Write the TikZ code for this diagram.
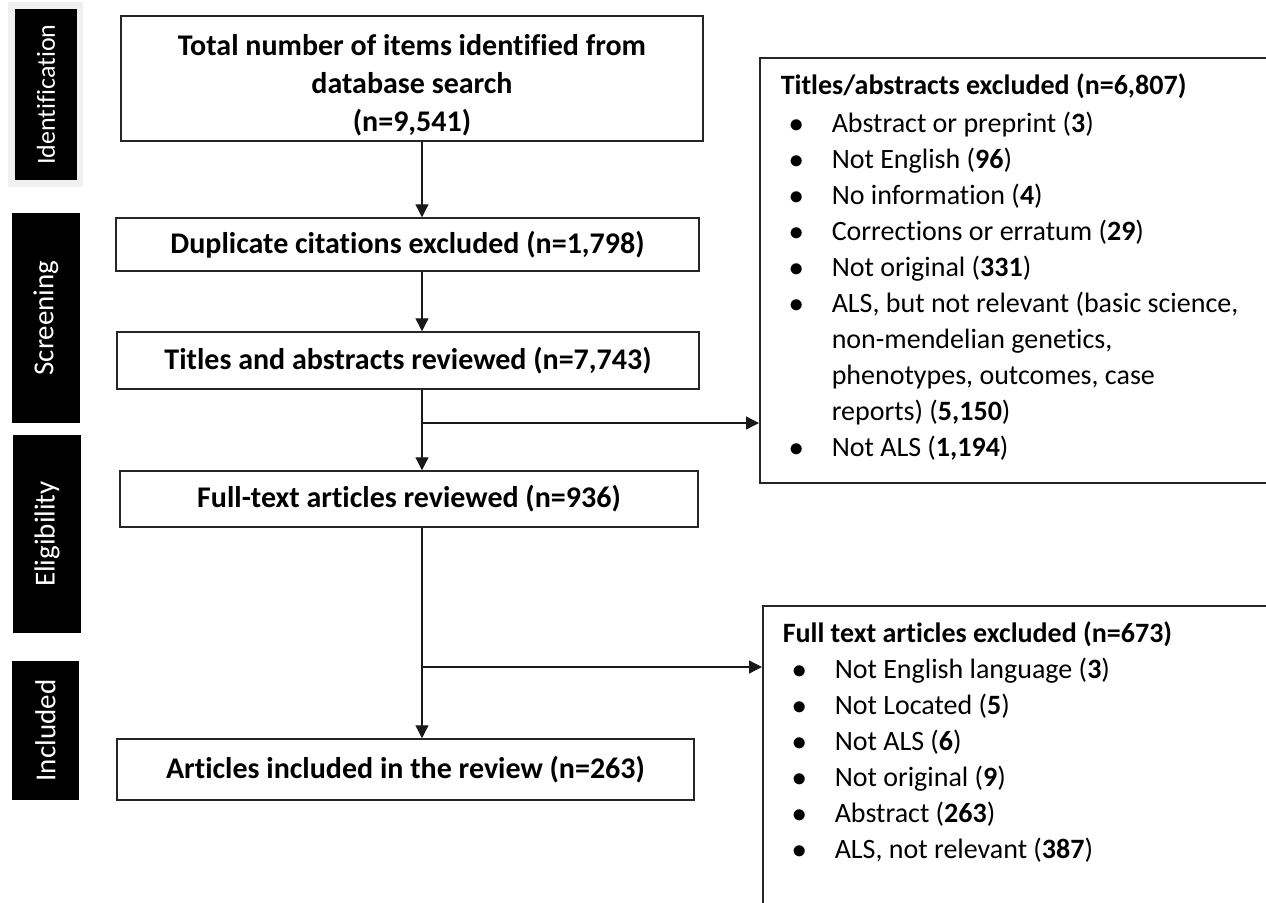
\documentclass[tikz,border=0pt]{standalone}
\usepackage{fontspec}
\setmainfont{Carlito}[Ligatures={NoCommon,NoRare,NoContextual}]
\usetikzlibrary{arrows.meta}
\newdimen\px \px=0.5pt
\newcommand\bitem[1]{\hspace*{37\px}\makebox[0pt]{$\bullet$}\hspace*{35\px}\strut #1\par}
\newcommand\bcont[1]{\hspace*{72\px}\strut #1\par}
\tikzset{
 mainbox/.style={draw=black!85, line width=0.75pt, fill=white, font=\fontsize{15}{19}\selectfont\bfseries, align=center, inner sep=0pt},
 phase/.style={fill=black, text=white, rotate=90, font=\fontsize{14.5}{17}\selectfont, inner sep=0pt},
 exbox/.style={draw=black!85, line width=0.75pt, anchor=north west, inner sep=0pt, font=\fontsize{14}{18}\selectfont},
 arr/.style={line width=0.65pt, draw=black!90, -{Triangle[length=6.5pt,width=6.5pt]}}
}
\begin{document}
\begin{tikzpicture}[x=0.5pt,y=-0.5pt]
\useasboundingbox (0,0) rectangle (1266,902);
\clip (0,0) rectangle (1266,902);
% phase labels
\fill[black!6] (8,2) rectangle (83,187);
\node[phase, minimum width=85.5pt, minimum height=31pt, font=\fontsize{13}{15}\selectfont] (pid) at (46,94.5) {Identification};
\node[phase, minimum width=105pt, minimum height=34pt] (psc) at (46,318) {Screening};
\node[phase, minimum width=99pt, minimum height=34pt] (pel) at (47,534) {Eligibility};
\node[phase, minimum width=69.5pt, minimum height=33.5pt] (pin) at (45.5,730.5) {Included};
% main boxes
\node[mainbox, minimum width=291pt, minimum height=62.5pt] (b1) at (412,78.5) {\rule{0pt}{17pt}Total number of items identified from\\database search\\(n=9,541)};
\node[mainbox, minimum width=291.5pt, minimum height=26.5pt] (b2) at (407.5,244.5) {Duplicate citations excluded (n=1,798)};
\node[mainbox, minimum width=291pt, minimum height=28.5pt] (b3) at (408,360.5) {Titles and abstracts reviewed (n=7,743)};
\node[mainbox, minimum width=289pt, minimum height=28pt] (b4) at (409,499) {Full-text articles reviewed (n=936)};
\node[mainbox, minimum width=288.5pt, minimum height=30.5pt] (b5) at (405.5,769.5) {Articles included in the review (n=263)};
% exclusion boxes
\node[exbox] (ex1) at (759,57) {\begin{minipage}[c][212.5pt][t]{265.5pt}\raggedright
\vspace*{6pt}
\hspace*{21\px}\strut\textbf{Titles/abstracts excluded (n=6,807)}\par
\vspace{1pt}
\bitem{Abstract or preprint (\textbf{3})}
\bitem{Not English (\textbf{96})}
\bitem{No information (\textbf{4})}
\bitem{Corrections or erratum (\textbf{29})}
\bitem{Not original (\textbf{331})}
\bitem{ALS, but not relevant (basic science,}
\bcont{non-mendelian genetics,}
\bcont{phenotypes, outcomes, case}
\bcont{reports) (\textbf{5,150})}
\bitem{Not ALS (\textbf{1,194})}
\end{minipage}};
\node[exbox] (ex2) at (762,605) {\begin{minipage}[c][162.5pt][t]{264pt}\raggedright
\vspace*{5.6pt}
\hspace*{20\px}\strut\textbf{Full text articles excluded (n=673)}\par
\bitem{Not English language (\textbf{3})}
\bitem{Not Located (\textbf{5})}
\bitem{Not ALS (\textbf{6})}
\bitem{Not original (\textbf{9})}
\bitem{Abstract (\textbf{263})}
\bitem{ALS, not relevant (\textbf{387})}
\end{minipage}};
% connectors
\coordinate (ax) at (422,0);
\coordinate (s1) at (422,423);
\coordinate (s2) at (422,667);
\draw[arr] (b1.south -| ax) -- (b2.north -| ax);
\draw[arr] (b2.south -| ax) -- (b3.north -| ax);
\draw[arr] (b3.south -| ax) -- (b4.north -| ax);
\draw[arr] (s1) -- (s1 -| ex1.west);
\draw[arr] (b4.south -| ax) -- (b5.north -| ax);
\draw[arr] (s2) -- (s2 -| ex2.west);
\end{tikzpicture}
\end{document}
